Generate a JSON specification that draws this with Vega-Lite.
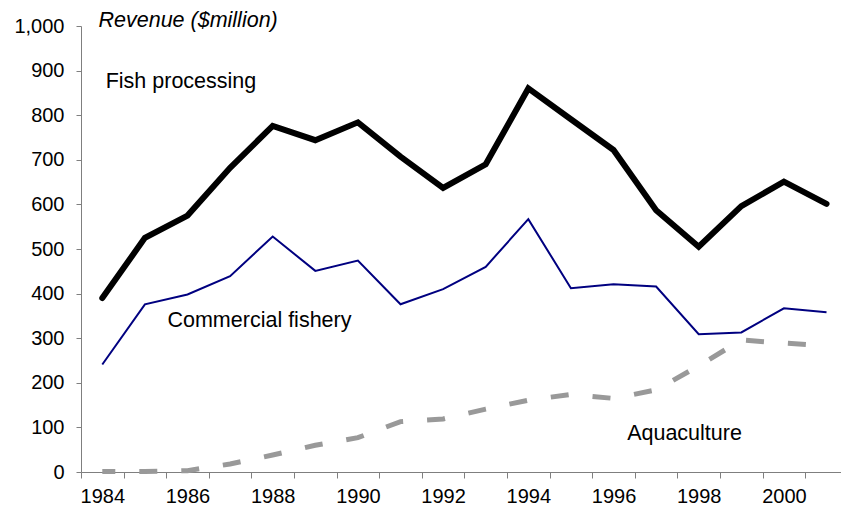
{
  "$schema": "https://vega.github.io/schema/vega-lite/v6.json",
  "autosize": "none",
  "width": 760,
  "height": 446,
  "padding": {"left": 81, "top": 26, "right": 0, "bottom": 47},
  "background": "white",
  "config": {
    "view": {"stroke": null},
    "font": "Liberation Sans"
  },
  "datasets": {
    "series": [
      {"year": 1984, "series": "Fish processing", "value": 390},
      {"year": 1985, "series": "Fish processing", "value": 525},
      {"year": 1986, "series": "Fish processing", "value": 575},
      {"year": 1987, "series": "Fish processing", "value": 682},
      {"year": 1988, "series": "Fish processing", "value": 776},
      {"year": 1989, "series": "Fish processing", "value": 744},
      {"year": 1990, "series": "Fish processing", "value": 784},
      {"year": 1991, "series": "Fish processing", "value": 707},
      {"year": 1992, "series": "Fish processing", "value": 637},
      {"year": 1993, "series": "Fish processing", "value": 690},
      {"year": 1994, "series": "Fish processing", "value": 860},
      {"year": 1995, "series": "Fish processing", "value": 791},
      {"year": 1996, "series": "Fish processing", "value": 722},
      {"year": 1997, "series": "Fish processing", "value": 587},
      {"year": 1998, "series": "Fish processing", "value": 505},
      {"year": 1999, "series": "Fish processing", "value": 596},
      {"year": 2000, "series": "Fish processing", "value": 651},
      {"year": 2001, "series": "Fish processing", "value": 601},
      {"year": 1984, "series": "Commercial fishery", "value": 241},
      {"year": 1985, "series": "Commercial fishery", "value": 376},
      {"year": 1986, "series": "Commercial fishery", "value": 398},
      {"year": 1987, "series": "Commercial fishery", "value": 439},
      {"year": 1988, "series": "Commercial fishery", "value": 528},
      {"year": 1989, "series": "Commercial fishery", "value": 451},
      {"year": 1990, "series": "Commercial fishery", "value": 474},
      {"year": 1991, "series": "Commercial fishery", "value": 376},
      {"year": 1992, "series": "Commercial fishery", "value": 410},
      {"year": 1993, "series": "Commercial fishery", "value": 460},
      {"year": 1994, "series": "Commercial fishery", "value": 567},
      {"year": 1995, "series": "Commercial fishery", "value": 412},
      {"year": 1996, "series": "Commercial fishery", "value": 421},
      {"year": 1997, "series": "Commercial fishery", "value": 416},
      {"year": 1998, "series": "Commercial fishery", "value": 309},
      {"year": 1999, "series": "Commercial fishery", "value": 313},
      {"year": 2000, "series": "Commercial fishery", "value": 367},
      {"year": 2001, "series": "Commercial fishery", "value": 358},
      {"year": 1984, "series": "Aquaculture", "value": 1},
      {"year": 1985, "series": "Aquaculture", "value": 1},
      {"year": 1986, "series": "Aquaculture", "value": 3},
      {"year": 1987, "series": "Aquaculture", "value": 18},
      {"year": 1988, "series": "Aquaculture", "value": 38},
      {"year": 1989, "series": "Aquaculture", "value": 60},
      {"year": 1990, "series": "Aquaculture", "value": 77},
      {"year": 1991, "series": "Aquaculture", "value": 113},
      {"year": 1992, "series": "Aquaculture", "value": 119},
      {"year": 1993, "series": "Aquaculture", "value": 141},
      {"year": 1994, "series": "Aquaculture", "value": 161},
      {"year": 1995, "series": "Aquaculture", "value": 174},
      {"year": 1996, "series": "Aquaculture", "value": 165},
      {"year": 1997, "series": "Aquaculture", "value": 184},
      {"year": 1998, "series": "Aquaculture", "value": 238},
      {"year": 1999, "series": "Aquaculture", "value": 296},
      {"year": 2000, "series": "Aquaculture", "value": 289},
      {"year": 2001, "series": "Aquaculture", "value": 283}
    ],
    "labels": [
      {"label": "Fish processing", "year": 1984.08, "value": 861},
      {"label": "Commercial fishery", "year": 1985.53, "value": 326},
      {"label": "Aquaculture", "year": 1996.32, "value": 72}
    ]
  },
  "encoding": {
    "x": {
      "field": "year",
      "type": "quantitative",
      "scale": {"domain": [1983.5, 2001.34], "nice": false, "zero": false},
      "axis": {
        "title": null,
        "values": [1983.5, 1984.5, 1985.5, 1986.5, 1987.5, 1988.5, 1989.5, 1990.5, 1991.5, 1992.5, 1993.5, 1994.5, 1995.5, 1996.5, 1997.5, 1998.5, 1999.5, 2000.5],
        "labelExpr": "(datum.value + 0.5) % 2 == 0 ? toString(datum.value + 0.5) : ''",
        "labelOffset": 21.3,
        "labelFlush": false,
        "labelOverlap": false,
        "labelFontSize": 20,
        "labelColor": "black",
        "labelPadding": 8,
        "ticks": true,
        "tickSize": 6,
        "tickColor": "#7f7f7f",
        "domainColor": "#7f7f7f",
        "grid": false
      }
    },
    "y": {
      "field": "value",
      "type": "quantitative",
      "scale": {"domain": [0, 1000], "nice": false},
      "axis": {
        "values": [0, 100, 200, 300, 400, 500, 600, 700, 800, 900, 1000],
        "format": ",.0f",
        "labelFontSize": 20,
        "labelColor": "black",
        "labelPadding": 12,
        "tickSize": 5,
        "tickColor": "#7f7f7f",
        "domainColor": "#7f7f7f",
        "grid": false,
        "title": "Revenue ($million)",
        "titleAngle": 0,
        "titleAlign": "left",
        "titleBaseline": "alphabetic",
        "titleX": 17,
        "titleY": 0,
        "titleFontStyle": "italic",
        "titleFontWeight": "normal",
        "titleFontSize": 21.5,
        "titleColor": "black"
      }
    }
  },
  "layer": [
    {
      "data": {"name": "series"},
      "transform": [{"filter": "datum.series == 'Aquaculture'"}],
      "mark": {"type": "line", "color": "#999999", "strokeWidth": 5, "strokeDash": [18, 24], "strokeDashOffset": 5, "strokeCap": "butt"}
    },
    {
      "data": {"name": "series"},
      "transform": [{"filter": "datum.series == 'Commercial fishery'"}],
      "mark": {"type": "line", "color": "#000080", "strokeWidth": 2}
    },
    {
      "data": {"name": "series"},
      "transform": [{"filter": "datum.series == 'Fish processing'"}],
      "mark": {"type": "line", "color": "black", "strokeWidth": 6, "strokeCap": "round", "strokeJoin": "miter"}
    },
    {
      "data": {"name": "labels"},
      "mark": {"type": "text", "align": "left", "baseline": "alphabetic", "fontSize": 21.5, "color": "black", "font": "Liberation Sans"},
      "encoding": {"text": {"field": "label"}}
    }
  ]
}
